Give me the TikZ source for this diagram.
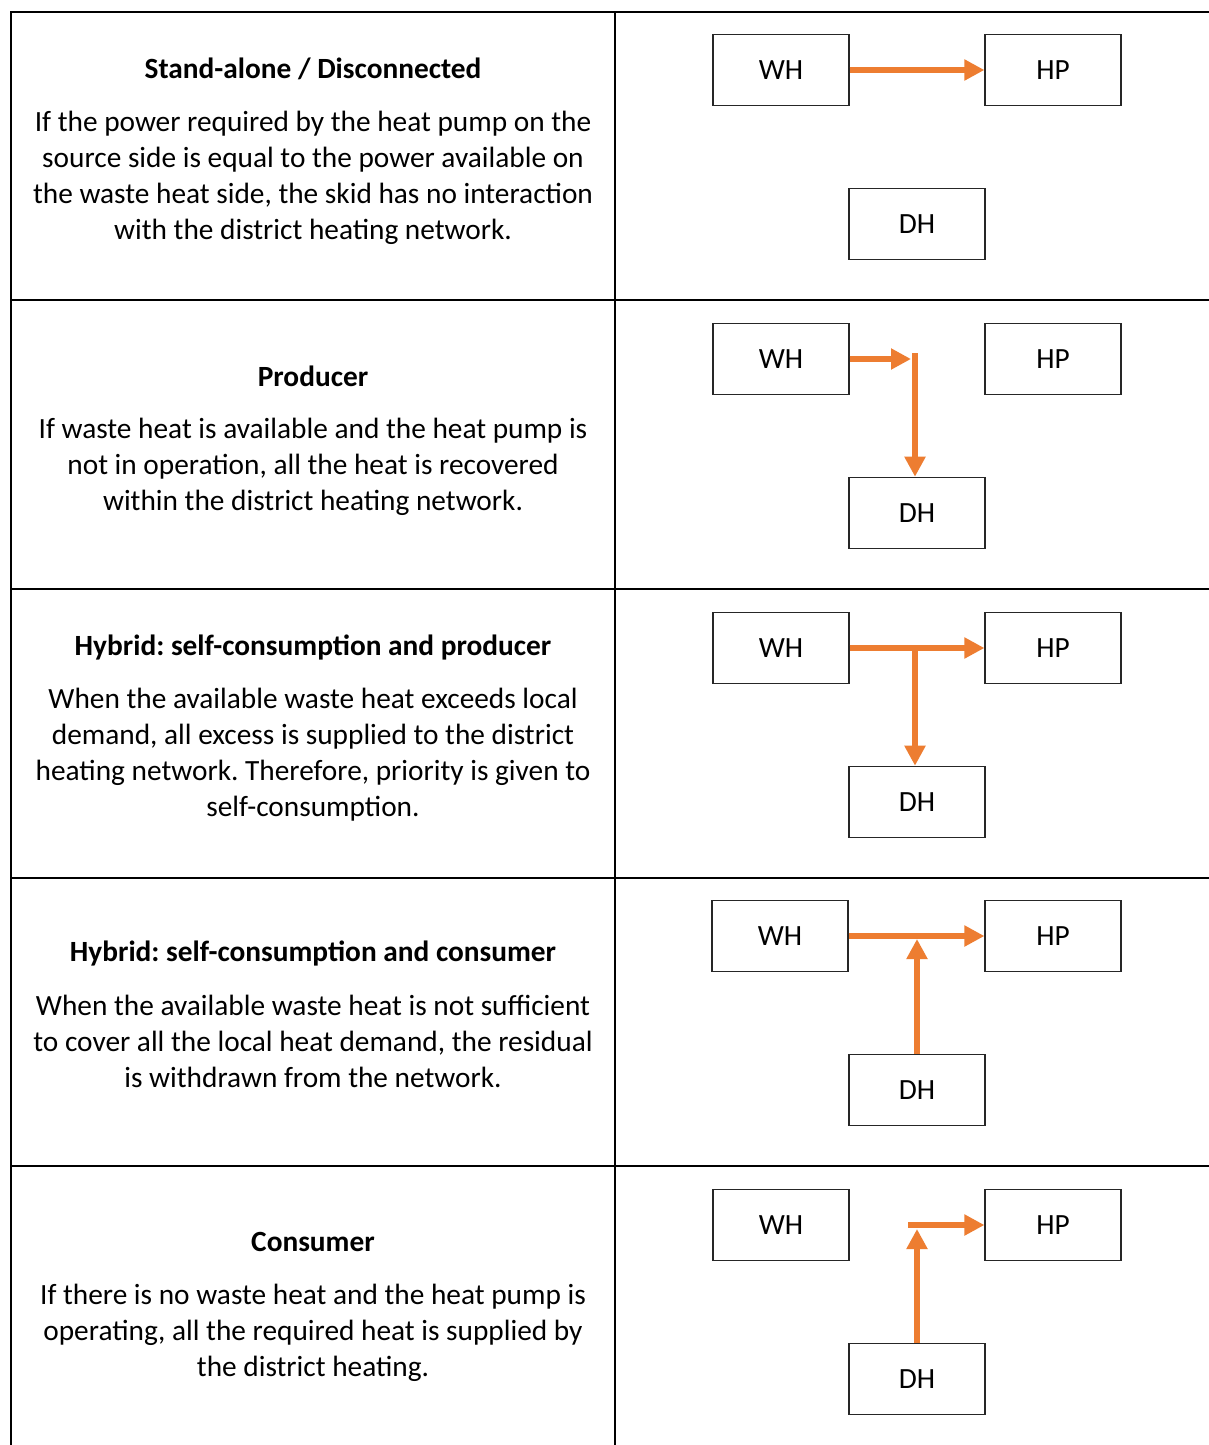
\documentclass[tikz,border=0pt]{standalone}
\usepackage{fontspec}
\setmainfont{Carlito}
\usetikzlibrary{arrows.meta}
\definecolor{arr}{HTML}{ED7D31}
\frenchspacing
\begin{document}
\begin{tikzpicture}[x=0.75pt,y=-0.75pt,
  grid/.style={line width=2pt,black},
  box/.style={draw=black!85,line width=0.9pt,minimum width=102pt,minimum height=53.5pt,inner sep=0pt,font=\fontsize{22}{27}\selectfont\frenchspacing},
  flow/.style={draw=arr,line width=4.4pt,-{Triangle[length=15pt,width=15pt]}},
  title/.style={inner sep=0pt,font=\fontsize{22}{27}\selectfont\bfseries\frenchspacing},
  body/.style={inner sep=0pt,align=center,font=\fontsize{22}{27}\selectfont\frenchspacing}]
\useasboundingbox[fill=white] (0,0) rectangle (1209,1445);
% table
\draw[grid] (11,1445) -- (11,12) -- (1209,12);
\draw[grid] (615,12) -- (615,1445);
\foreach \yy in {300,589,878,1166} \draw[grid] (11,\yy) -- (1209,\yy);
% texts
\node[title] (t1) at (313,69) {Stand-alone / Disconnected};
\node[body] (b1) at (313,178) {If the power required by the heat pump on the\\source side is equal to the power available on\\the waste heat side, the skid has no interaction\\with the district heating network.};
\node[title] (t2) at (313,376) {Producer};
\node[body] (b2) at (313,467) {If waste heat is available and the heat pump is\\not in operation, all the heat is recovered\\within the district heating network.};
\node[title] (t3) at (313,647) {Hybrid: self-consumption and producer};
\node[body] (b3) at (313,755) {When the available waste heat exceeds local\\demand, all excess is supplied to the district\\heating network. Therefore, priority is given to\\self-consumption.};
\node[title] (t4) at (313,953) {Hybrid: self-consumption and consumer};
\node[body] (b4) at (313,1041) {When the available waste heat is not sufficient\\to cover all the local heat demand, the residual\\is withdrawn from the network.};
\node[title] (t5) at (313,1242) {Consumer};
\node[body] (b5) at (313,1333) {If there is no waste heat and the heat pump is\\operating, all the required heat is supplied by\\the district heating.};
% boxes
\node[box] (w1) at (781,70) {WH};
\node[box] (h1) at (1053,70) {HP};
\node[box] (d1) at (917,224) {DH};
\node[box] (w2) at (781,359) {WH};
\node[box] (h2) at (1053,359) {HP};
\node[box] (d2) at (917,513) {DH};
\node[box] (w3) at (781,648) {WH};
\node[box] (h3) at (1053,648) {HP};
\node[box] (d3) at (917,802) {DH};
\node[box] (w4) at (780,936) {WH};
\node[box] (h4) at (1053,936) {HP};
\node[box] (d4) at (917,1090) {DH};
\node[box] (w5) at (781,1225) {WH};
\node[box] (h5) at (1053,1225) {HP};
\node[box] (d5) at (917,1379) {DH};
% arrows
\draw[flow] (w1.east) -- (h1.west);
\coordinate (e2) at (911,359);
\draw[flow] (w2.east) -- (e2);
\coordinate (j2) at (915,353);
\draw[flow] (j2) -- (j2 |- d2.north);
\draw[flow] (w3.east) -- (h3.west);
\coordinate (j3) at (915,648);
\draw[flow] (j3) -- (j3 |- d3.north);
\draw[flow] (w4.east) -- (h4.west);
\coordinate (j4) at (917,939);
\draw[flow] (d4.north) -- (j4);
\coordinate (s5) at (908,1225);
\draw[flow] (s5) -- (h5.west);
\coordinate (j5) at (917,1229);
\draw[flow] (d5.north) -- (j5);
\end{tikzpicture}
\end{document}
